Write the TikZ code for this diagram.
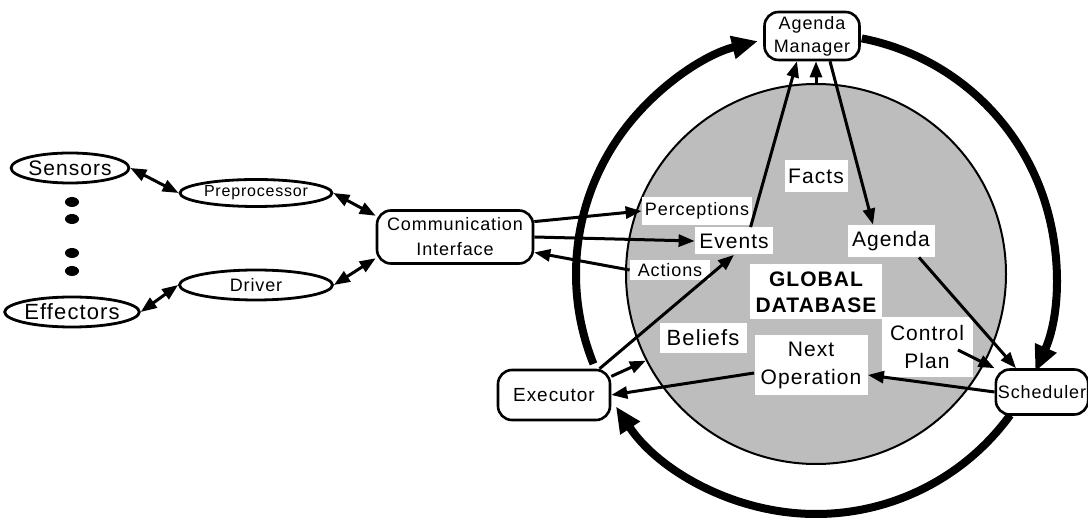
\documentclass[tikz,border=0pt]{standalone}
\usepackage{fontspec}
\setmainfont[LetterSpace=5]{Liberation Sans}
\usetikzlibrary{arrows.meta,positioning,calc,shapes.geometric}
\newcommand{\fs}[1]{\fontsize{#1}{1.3\dimexpr#1pt\relax}\selectfont}

\begin{document}
\begin{tikzpicture}[x=0.5pt, y=-0.5pt,
    ell/.style={ellipse, draw, line width=1.4pt, inner sep=0pt},
    rbox/.style={draw, rounded corners=7pt, line width=1.3pt, fill=white, align=center, inner sep=1pt},
    tbox/.style={fill=white, align=center, inner sep=1pt},
    arrow/.style={-{Triangle[length=8pt,width=6pt]}, line width=1.5pt},
    darrow/.style={{Triangle[length=8pt,width=6pt]}-{Triangle[length=8pt,width=6pt]}, line width=1.5pt},
    ring/.style={-{Triangle[length=13pt,width=11pt]}, line width=4pt},
]
\useasboundingbox (0,0) rectangle (1088,523);

% global database
\node[circle, draw, line width=1pt, fill=black!26, minimum size=190pt, inner sep=0pt] (db) at (816,274) {};
\coordinate (c) at (816,274);

% control loop
\draw[ring] ([shift={(158:240)}]c) arc[start angle=158, end angle=256, radius=240];
\draw[ring] ([shift={(-79:240)}]c) arc[start angle=-79, end angle=24, radius=240];
\draw[ring] ([shift={(36:240)}]c) arc[start angle=36, end angle=146.5, radius=240];

% left side
\node[ell, minimum width=58pt, minimum height=15pt, font=\fs{10.5}] (sens) at (70,168) {Sensors};
\node[ell, minimum width=57.5pt, minimum height=15pt, font=\fs{11}] (eff) at (72,312) {Effectors};
\node[ell, minimum width=76pt, minimum height=13.5pt, font=\fs{8}] (prep) at (256,193) {Preprocessor};
\node[ell, minimum width=76.5pt, minimum height=15pt, font=\fs{9}] (drv) at (256,285) {Driver};
\fill (72,202) ellipse[x radius=7, y radius=5];
\fill (72,219) ellipse[x radius=7, y radius=5];
\fill (72,253) ellipse[x radius=7, y radius=5];
\fill (72,271) ellipse[x radius=7, y radius=5];
\node[rbox, minimum width=78pt, minimum height=26.5pt, font=\fontsize{9}{12.5}\selectfont] (ci) at (455,237) {Communication\\Interface};

% modules on the ring
\node[rbox, minimum width=47.5pt, minimum height=24pt, font=\fontsize{9}{11.5}\selectfont] (am) at (812,36) {Agenda\\Manager};
\node[rbox, minimum width=56pt, minimum height=25pt, font=\fs{9.5}] (exec) at (554,395) {Executor};
\node[rbox, minimum width=45pt, minimum height=22.5pt, font=\fs{9}] (sched) at (1042,392) {Scheduler};

% database contents
\node[tbox, minimum width=55pt, minimum height=14pt, font=\fs{9}] (perc) at (697,211) {Perceptions};
\node[tbox, minimum width=39pt, minimum height=13.5pt, font=\fs{10.5}] (events) at (734,241) {Events};
\node[tbox, minimum width=40pt, minimum height=10pt, font=\fs{9}] (actions) at (670,270) {Actions};
\node[tbox, minimum width=31.5pt, minimum height=16pt, font=\fs{10.5}] (facts) at (816,176) {Facts};
\node[tbox, minimum width=43.5pt, minimum height=16pt, font=\fs{10.5}] (agenda) at (891,241) {Agenda};
\node[tbox, minimum width=66pt, minimum height=27.5pt, font=\fontsize{10.5}{13}\selectfont\bfseries] (gdb) at (816,292) {GLOBAL\\DATABASE};
\node[tbox, minimum width=43.5pt, minimum height=15pt, font=\fs{11}] (beliefs) at (703,338) {Beliefs};
\node[tbox, minimum width=56.5pt, minimum height=30pt, font=\fontsize{10.5}{14}\selectfont] (nextop) at (811,365) {Next\\Operation};
\node[tbox, minimum width=45.5pt, minimum height=30pt, font=\fontsize{10.5}{14}\selectfont] (ctrl) at (927,347) {Control\\Plan};

% connections
\draw[darrow] (sens.east) -- (prep.west);
\draw[darrow] (eff.east) -- (drv.west);
\draw[darrow] (prep.east) -- (ci.165);
\draw[darrow] (drv.east) -- (ci.195);
\draw[arrow] (ci.11) -- (perc.west);
\draw[arrow] (ci.east) -- (events.west);
\draw[arrow] (actions.west) -- (ci.-11);
\draw[arrow] (events.40) -- ($(am.south)+(-15,0)$);
\draw[arrow] (db.north) -- (db.north |- am.south);
\draw[arrow] ($(am.south)+(18,0)$) -- ($(agenda.north)+(-18,0)$);
\draw[arrow] ($(agenda.south)+(28,0)$) -- ($(sched.north)+(-26,0)$);
\draw[arrow] ($(ctrl.east)+(-15,3)$) -- (sched.north west);
\draw[arrow] (sched.west) -- ($(nextop.east)+(0,10)$);
\draw[arrow] ($(nextop.west)+(0,8)$) -- (exec.east);
\draw[arrow] (exec.30) -- (events.south);
\draw[arrow] (exec.18) -- (db.207.5);
\end{tikzpicture}
\end{document}
